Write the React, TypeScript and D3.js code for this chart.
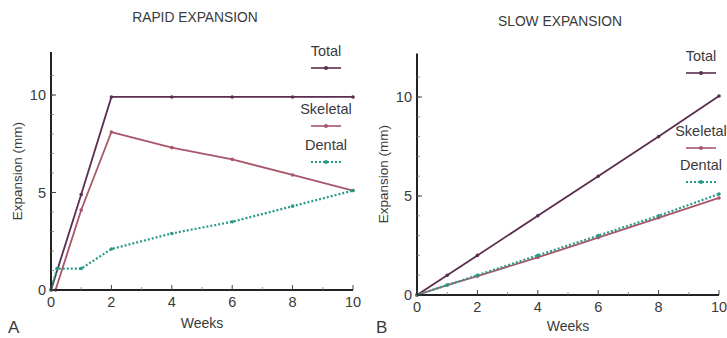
import React from 'react';
import * as d3 from 'd3';

// weeks on the x axis
const weekTicks = [0, 2, 4, 6, 8, 10];
const yTicks = [0, 5, 10];

// rapid expansion (panel A)
const rapidTotalWeeks = [0, 1, 2, 4, 6, 8, 10];
const rapidTotal = [0, 4.9, 9.9, 9.9, 9.9, 9.9, 9.9];
const rapidSkeletalWeeks = [0.15, 1, 2, 4, 6, 8, 10];
const rapidSkeletal = [0, 4.1, 8.1, 7.3, 6.7, 5.9, 5.1];
const rapidDentalWeeks = [0, 0.2, 1, 2, 4, 6, 8, 10];
const rapidDental = [0, 1.1, 1.1, 2.1, 2.9, 3.5, 4.3, 5.1];

// slow expansion (panel B)
const slowWeeks = [0, 1, 2, 4, 6, 8, 10];
const slowTotal = [0, 1, 2, 4, 6, 8, 10.05];
const slowSkeletal = [0, 0.5, 0.95, 1.9, 2.9, 3.9, 4.9];
const slowDental = [0, 0.5, 1, 2, 3, 4, 5.1];

const seriesNames = ['Total', 'Skeletal', 'Dental'];
const colors = ['#5b2d4f', '#a8566a', '#2a9a88'];

const textColor = '#3a3a3a';
const font = 'Liberation Sans, Arial, sans-serif';

type Series = {weeks: number[], values: number[]};

type PanelProps = {
  title: string,
  titleX: number,
  titleY: number,
  letter: string,
  letterX: number,
  letterY: number,
  x0: number,
  x1: number,
  y0: number,
  y10: number,
  yLabelX: number,
  weeksY: number,
  series: Series[],
  legendX: number,
  legendYs: number[],
};

function Panel(props: PanelProps) {
  const x = d3.scaleLinear().domain([0, 10]).range([props.x0, props.x1]);
  const y = d3.scaleLinear().domain([0, 10]).range([props.y0, props.y10]);
  const yTop = y(12.2);
  const line = d3.line<[number, number]>()
    .x(d => x(d[0]))
    .y(d => y(d[1]));

  const minorX = d3.range(1, 10, 2);
  const minorY = d3.range(1, 12);

  return (
    <g>
      <text x={props.titleX} y={props.titleY} textAnchor="middle" fontSize={13.8}
        fill={textColor} fontFamily={font}>{props.title}</text>

      {/* series */}
      {props.series.map((s, i) => {
        const pts = s.weeks.map((w, j) => [w, s.values[j]] as [number, number]);
        return (
          <g key={i}>
            <path d={line(pts) || ''} fill="none" stroke={colors[i]}
              strokeWidth={i === 2 ? 2.2 : 1.8}
              strokeDasharray={i === 2 ? '2,2' : undefined} />
            {pts.map((p, j) => (
              <circle key={j} cx={x(p[0])} cy={y(p[1])} r={1.8} fill={colors[i]} />
            ))}
          </g>
        );
      })}

      {/* axes */}
      <line x1={x(0)} x2={x(0)} y1={yTop} y2={y(0)} stroke="#222" strokeWidth={2} />
      <line x1={x(0)} x2={x(10)} y1={y(0)} y2={y(0)} stroke="#222" strokeWidth={2} />
      {minorY.map(v => (
        <line key={'my' + v} x1={x(0)} x2={x(0) + 3} y1={y(v)} y2={y(v)} stroke="#777" strokeWidth={0.8} />
      ))}
      {yTicks.map(v => (
        <g key={'y' + v}>
          <line x1={x(0)} x2={x(0) + 5} y1={y(v)} y2={y(v)} stroke="#444" strokeWidth={1} />
          <text x={x(0) - 5} y={y(v)} dy="0.35em" textAnchor="end" fontSize={14.5}
            fill={textColor} fontFamily={font}>{v}</text>
        </g>
      ))}
      {minorX.map(v => (
        <line key={'mx' + v} x1={x(v)} x2={x(v)} y1={y(0)} y2={y(0) - 3} stroke="#777" strokeWidth={0.8} />
      ))}
      {weekTicks.map(v => (
        <g key={'x' + v}>
          <line x1={x(v)} x2={x(v)} y1={y(0)} y2={y(0) - 5} stroke="#444" strokeWidth={1} />
          <text x={x(v)} y={y(0) + 17} textAnchor="middle" fontSize={14.5}
            fill={textColor} fontFamily={font}>{v}</text>
        </g>
      ))}

      <text x={(props.x0 + props.x1) / 2} y={props.weeksY} textAnchor="middle" fontSize={14}
        fill={textColor} fontFamily={font}>Weeks</text>
      <text transform={`translate(${props.yLabelX},${(yTop + y(0)) / 2}) rotate(-90)`}
        textAnchor="middle" fontSize={13.5} fill={textColor} fontFamily={font}>Expansion (mm)</text>
      <text x={props.letterX} y={props.letterY} fontSize={17} fill={textColor}
        fontFamily={font}>{props.letter}</text>

      {/* legend */}
      {seriesNames.map((name, i) => {
        const ly = props.legendYs[i];
        return (
          <g key={name}>
            <text x={props.legendX} y={ly} textAnchor="middle" fontSize={14.5}
              fill={textColor} fontFamily={font}>{name}</text>
            <line x1={props.legendX - 15} x2={props.legendX + 15} y1={ly + 12} y2={ly + 12}
              stroke={colors[i]} strokeWidth={i === 2 ? 2.2 : 1.6}
              strokeDasharray={i === 2 ? '2,2' : undefined} />
            <circle cx={props.legendX} cy={ly + 12} r={2} fill={colors[i]} />
          </g>
        );
      })}
    </g>
  );
}

export default function App() {
  return (
    <svg width={727} height={338} style={{position: 'absolute', top: 0, left: 0, background: '#fff'}}>
      <Panel title="RAPID EXPANSION" titleX={195} titleY={22}
        letter="A" letterX={8} letterY={333}
        x0={51} x1={353} y0={290} y10={95}
        yLabelX={22} weeksY={328}
        series={[
          {weeks: rapidTotalWeeks, values: rapidTotal},
          {weeks: rapidSkeletalWeeks, values: rapidSkeletal},
          {weeks: rapidDentalWeeks, values: rapidDental},
        ]}
        legendX={326} legendYs={[56, 114, 150]} />
      <Panel title="SLOW EXPANSION" titleX={560} titleY={26}
        letter="B" letterX={376} letterY={333}
        x0={417} x1={719} y0={295} y10={97}
        yLabelX={388} weeksY={331}
        series={[
          {weeks: slowWeeks, values: slowTotal},
          {weeks: slowWeeks, values: slowSkeletal},
          {weeks: slowWeeks, values: slowDental},
        ]}
        legendX={701} legendYs={[61, 136, 170]} />
    </svg>
  );
}
